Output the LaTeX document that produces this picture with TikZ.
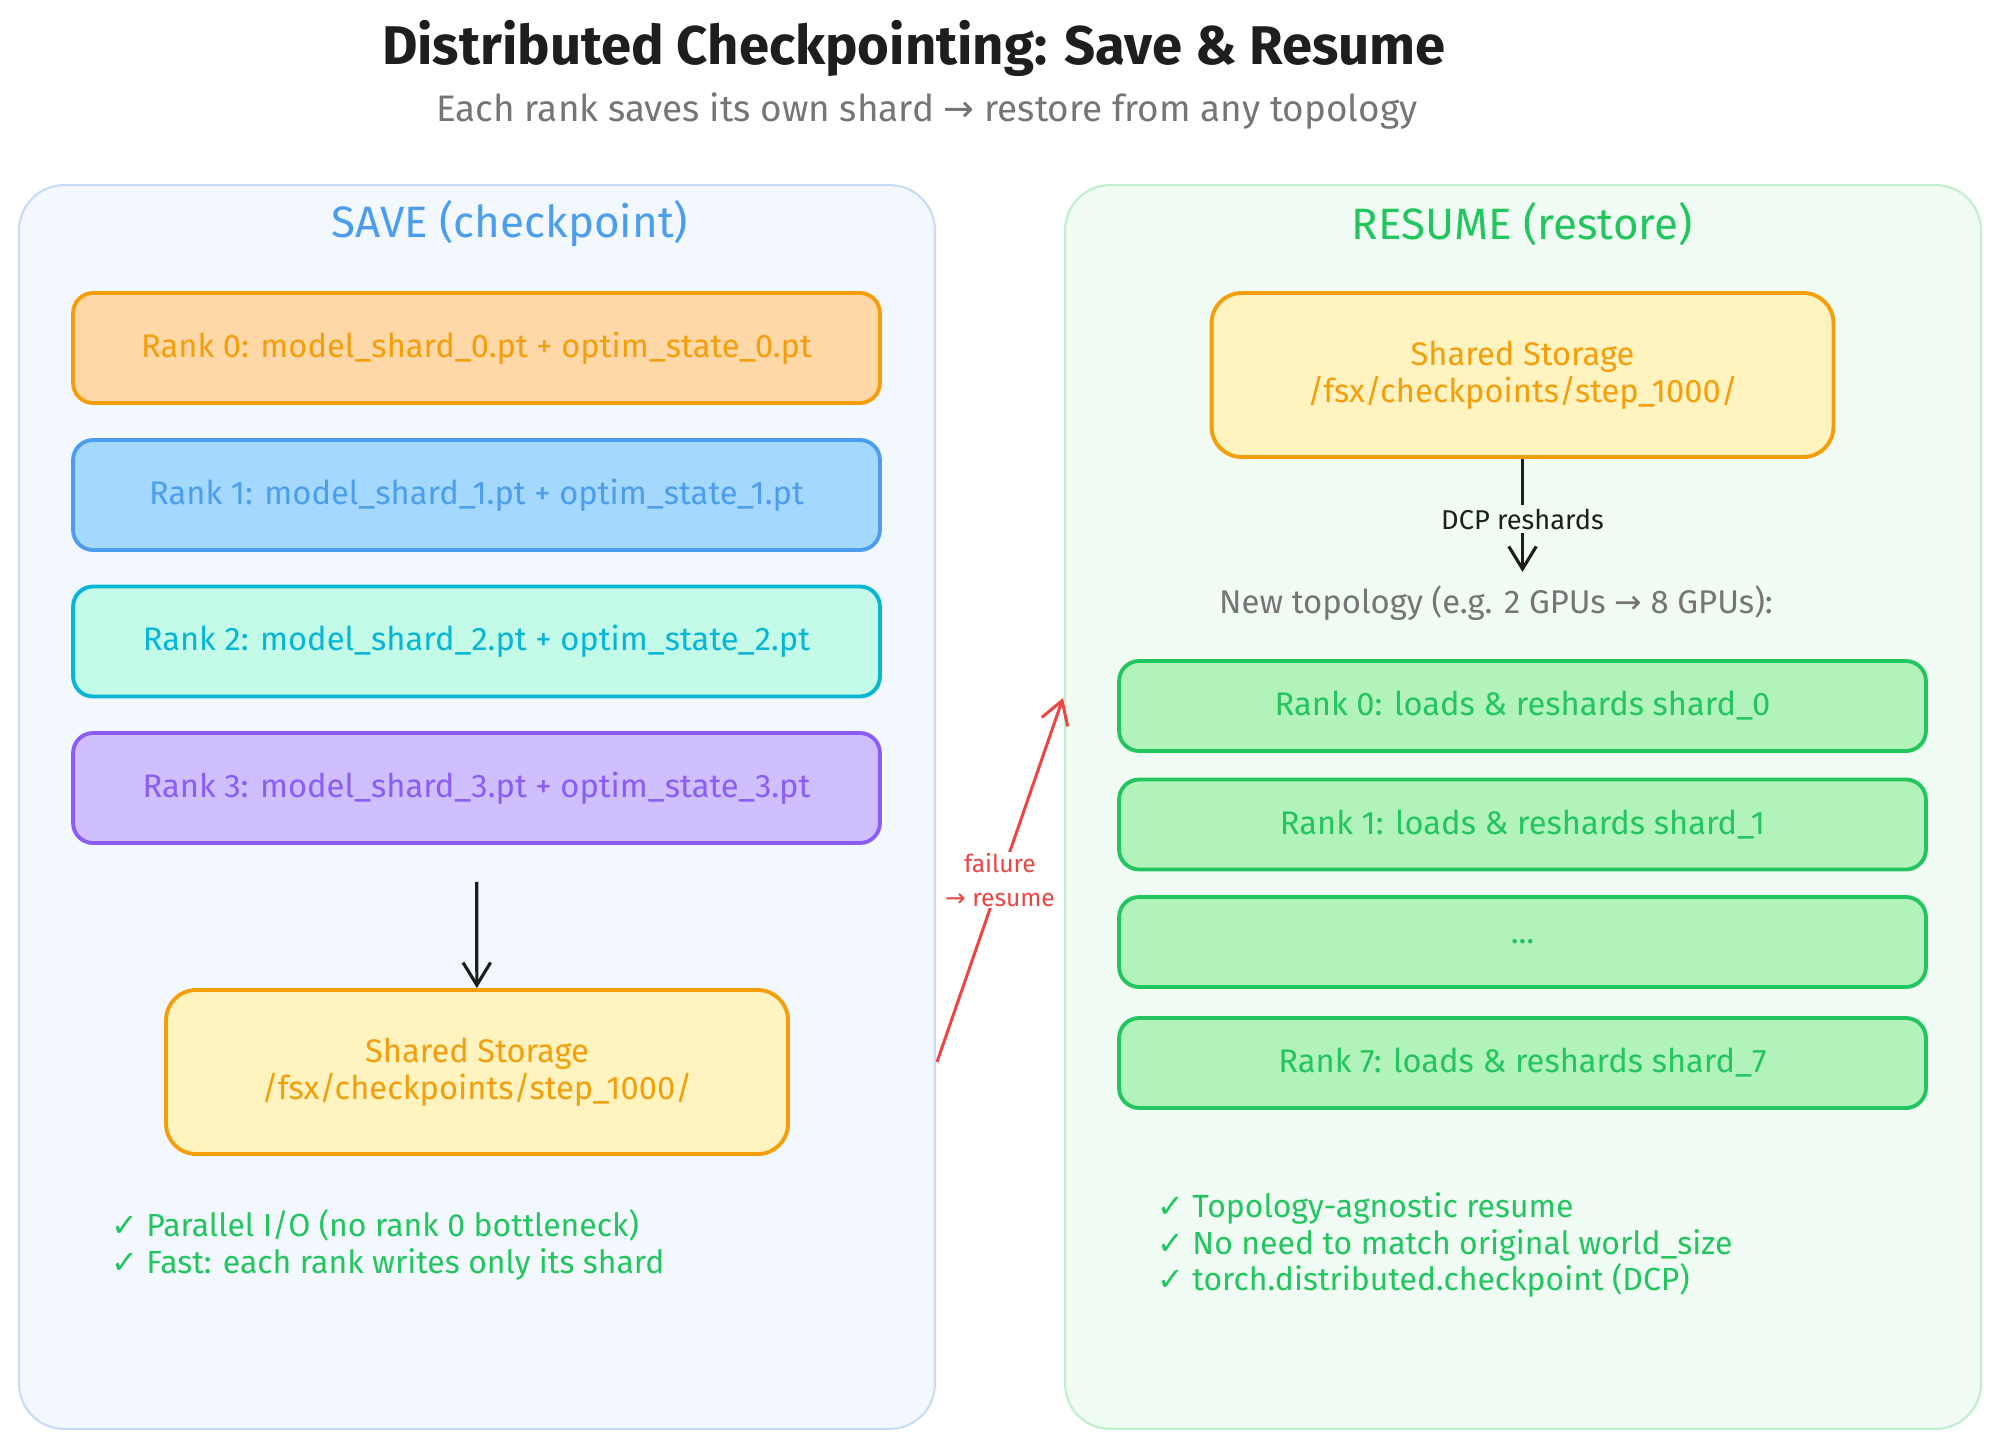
\documentclass[tikz,border=0pt]{standalone}
\usepackage{fontspec}
\setmainfont{Fira Sans}
\newfontfamily\symfont{DejaVu Sans}
\usetikzlibrary{arrows.meta,positioning}

\definecolor{inkblack}{HTML}{1E1E1E}
\definecolor{subgrey}{HTML}{757575}
\definecolor{savebg}{HTML}{F3F7FE}
\definecolor{saveedge}{HTML}{C8DCF6}
\definecolor{resumebg}{HTML}{F0FBF3}
\definecolor{resumeedge}{HTML}{BFEFCC}
\definecolor{orangeink}{HTML}{F59E0B}
\definecolor{orangefill}{HTML}{FFD8A8}
\definecolor{blueink}{HTML}{4A9EED}
\definecolor{bluefill}{HTML}{A5D8FF}
\definecolor{cyanink}{HTML}{06B6D4}
\definecolor{cyanfill}{HTML}{C3FAE8}
\definecolor{violetink}{HTML}{8B5CF6}
\definecolor{violetfill}{HTML}{D0BFFF}
\definecolor{storagefill}{HTML}{FFF3BF}
\definecolor{greenink}{HTML}{22C55E}
\definecolor{greenfill}{HTML}{B2F2BB}
\definecolor{failred}{HTML}{EF4444}

\newcommand{\chk}{{\symfont ✓}}
\newcommand{\rarr}{{\symfont →}}

\begin{document}
\begin{tikzpicture}[
    x=0.02cm,
    y=-0.02cm,
    >={Straight Barb[length=4.5mm,width=5.5mm]},
    panel/.style={
        rounded corners=0.9cm,
        line width=1.2pt,
        minimum width=18.32cm,
        minimum height=24.88cm,
        inner sep=0pt
    },
    rankbox/.style={
        rounded corners=0.4cm,
        line width=2.2pt,
        minimum width=16.14cm,
        minimum height=2.2cm,
        font=\fontsize{18.6}{22}\selectfont
    },
    loadbox/.style={
        rankbox,
        minimum height=1.8cm,
        draw=greenink,
        fill=greenfill,
        text=greenink
    },
    storage/.style={
        rounded corners=0.6cm,
        line width=2.2pt,
        draw=orangeink,
        fill=storagefill,
        text=orangeink,
        minimum width=12.44cm,
        minimum height=3.28cm,
        align=center,
        font=\fontsize{18.6}{21}\selectfont
    },
    heading/.style={
        font=\fontsize{25}{29}\selectfont
    },
    checks/.style={
        anchor=west,
        align=left,
        text=greenink,
        font=\fontsize{18.2}{21}\selectfont
    },
    edge/.style={
        ->,
        line width=1.8pt,
        draw=inkblack
    },
    failedge/.style={
        ->,
        line width=1.7pt,
        draw=failred
    }
]
\useasboundingbox (0,0) rectangle (2000,1449);

% Title
\node[text=inkblack, font=\fontsize{31}{36}\selectfont\bfseries] (title) at (914,48)
    {Distributed Checkpointing: Save \& Resume};
\node[text=subgrey, font=\fontsize{21}{25}\selectfont] (subtitle) at (927,111)
    {Each rank saves its own shard \rarr{} restore from any topology};

% Panels
\node[panel, draw=saveedge, fill=savebg] (save) at (477,807) {};
\node[panel, draw=resumeedge, fill=resumebg] (resume) at (1523,807) {};

% Save side
\node[heading, text=blueink] (savetitle) at (510,224) {SAVE (checkpoint)};

\node[rankbox, draw=orangeink, fill=orangefill, text=orangeink] (r0) at (476.5,348)
    {Rank 0: model\_shard\_0.pt + optim\_state\_0.pt};
\node[rankbox, draw=blueink, fill=bluefill, text=blueink] (r1) at (476.5,495)
    {Rank 1: model\_shard\_1.pt + optim\_state\_1.pt};
\node[rankbox, draw=cyanink, fill=cyanfill, text=cyanink] (r2) at (476.5,641.5)
    {Rank 2: model\_shard\_2.pt + optim\_state\_2.pt};
\node[rankbox, draw=violetink, fill=violetfill, text=violetink] (r3) at (476.5,788)
    {Rank 3: model\_shard\_3.pt + optim\_state\_3.pt};

\node[storage] (st1) at (477,1072) {Shared Storage\\/fsx/checkpoints/step\_1000/};

\node[checks] (savechecks) at (105,1245)
    {\chk{} Parallel I/O (no rank 0 bottleneck)\\\chk{} Fast: each rank writes only its shard};

% Resume side
\node[heading, text=greenink] (resumetitle) at (1522,224) {RESUME (restore)};

\node[storage] (st2) at (1522.5,375) {Shared Storage\\/fsx/checkpoints/step\_1000/};

\node[text=subgrey, font=\fontsize{18.7}{22}\selectfont] (topo) at (1496,603)
    {New topology (e.g. 2 GPUs \rarr{} 8 GPUs):};

\node[loadbox] (n0) at (1522.5,706) {Rank 0: loads \& reshards shard\_0};
\node[loadbox] (n1) at (1522.5,824.5) {Rank 1: loads \& reshards shard\_1};
\node[loadbox] (ndots) at (1522.5,942) {...};
\node[loadbox] (n7) at (1522.5,1063) {Rank 7: loads \& reshards shard\_7};

\node[checks] (resumechecks) at (1151,1245)
    {\chk{} Topology-agnostic resume\\\chk{} No need to match original world\_size\\\chk{} torch.distributed.checkpoint (DCP)};

% Edges
\draw[edge, shorten <=0.74cm] (r3) -- (st1);
\draw[edge, shorten >=0.15cm] (st2.south) --
    node[fill=resumebg, inner sep=2pt, text=inkblack, font=\fontsize{15.5}{18}\selectfont] (dcp) {DCP reshards} (st2.south |- topo.north);

\coordinate (failsrc) at (937,1062);
\coordinate (failtgt) at (1063,698);
\draw[failedge] (failsrc) --
    node[fill=white, inner sep=1pt, align=center, text=failred, font=\fontsize{14}{19}\selectfont] (faillabel) {failure\\\rarr{} resume} (failtgt);

\end{tikzpicture}
\end{document}
